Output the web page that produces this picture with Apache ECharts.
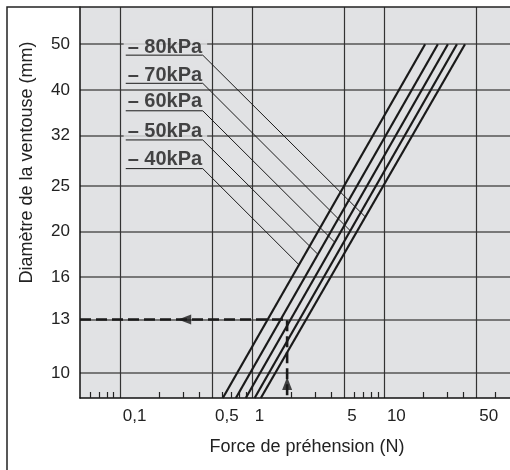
<!DOCTYPE html>
<html>
<head>
<meta charset="utf-8">
<script src="https://cdn.jsdelivr.net/npm/echarts@6/dist/echarts.min.js"></script>
<style>
  html, body { margin: 0; padding: 0; background: #fff; }
  #chart { width: 510px; height: 470px; }
</style>
</head>
<body>
<div id="chart"></div>
<script>
// vacuum levels, right-most line first
const pressures = ["80kPa", "70kPa", "60kPa", "50kPa", "40kPa"];
// force (N) where each line meets d = 50 mm and the bottom of the plot
const forceAtTop = [41.1, 35.7, 30.5, 25.6, 20.5];
const forceAtBottom = [1.17, 1.05, 0.9, 0.757, 0.603];
const diamTop = 50;
const diamBottom = 8.85;

// y axis (diameter, mm) and x axis (force, N) ticks
const diamTicks = [10, 13, 16, 20, 25, 32, 40, 50];
const forceLabels = [0.1, 0.5, 1, 5, 10, 50];
const forceMinor = [0.06, 0.07, 0.08, 0.09, 0.2, 0.3, 0.4, 0.6, 0.7, 0.8, 0.9, 2, 3, 4, 6, 7, 8, 9, 20, 30, 40, 70];

// callouts: label place, underline and leader end
const labelForce = 0.107;
const labelDiam = [49.3, 43.0, 37.7, 32.7, 28.5];
const underlineForce = [0.111, 0.425];
const underlineDiam = [47.4, 41.3, 36.1, 31.3, 27.2];
const leaderEnd = [[7.2, 21.5], [5.53, 20.1], [4.22, 19.0], [3.15, 17.9], [2.27, 17.0]];

// worked example: 13 mm cup
const exampleDiam = 13;
const exampleForce = 1.85;
const arrowLeft = [0.31, 13];
const arrowUp = [1.85, 9.5];

const font = "Liberation Sans, Arial, sans-serif";
const ink = "#1a1a1a";

const chart = echarts.init(document.getElementById("chart"));

const series = [];

pressures.forEach((p, i) => {
  series.push({
    name: p,
    type: "line",
    xAxisIndex: 0,
    showSymbol: false,
    silent: true,
    z: 4,
    lineStyle: { color: ink, width: 2.2 },
    data: [[forceAtBottom[i], diamBottom], [forceAtTop[i], diamTop]],
  });
  series.push({
    type: "line",
    xAxisIndex: 0,
    showSymbol: false,
    silent: true,
    z: 5,
    lineStyle: { color: ink, width: 1 },
    data: [
      [underlineForce[0], underlineDiam[i]],
      [underlineForce[1], underlineDiam[i]],
      leaderEnd[i],
    ],
  });
});

series.push({
  type: "scatter",
  xAxisIndex: 0,
  silent: true,
  z: 3,
  symbolSize: 0,
  label: {
    show: true,
    position: "right",
    distance: 0,
    formatter: (d) => "– " + pressures[d.dataIndex],
    fontFamily: font,
    fontWeight: "bold",
    fontSize: 20,
    lineHeight: 15,
    color: ink,
    backgroundColor: "#e1e2e4",
    padding: [0, 5, 0, 4],
  },
  data: labelDiam.map((d) => [labelForce, d]),
});

// dashed reading lines
series.push({
  type: "line",
  xAxisIndex: 0,
  showSymbol: false,
  silent: true,
  z: 6,
  lineStyle: { color: ink, width: 2.6, type: [11, 5] },
  data: [[0.05, exampleDiam], [exampleForce, exampleDiam], [exampleForce, diamBottom]],
});
series.push({
  type: "scatter",
  xAxisIndex: 0,
  silent: true,
  z: 7,
  symbol: "triangle",
  itemStyle: { color: ink },
  data: [
    { value: arrowLeft, symbolRotate: 90, symbolSize: [10, 13] },
    { value: arrowUp, symbolRotate: 0, symbolSize: [10, 13] },
  ],
});

chart.setOption({
  animation: false,
  textStyle: { fontFamily: font },
  grid: {
    left: 80,
    top: 7,
    width: 436,
    height: 391,
    outerBoundsMode: "none",
    containLabel: false,
    show: true,
    backgroundColor: "#e1e2e4",
    borderWidth: 0,
  },
  graphic: [
    {
      type: "rect",
      shape: { x: 7, y: 7, width: 600, height: 600 },
      style: { fill: null, stroke: "#222", lineWidth: 1.5 },
      z: 100,
      silent: true,
    },
  ],
  xAxis: [
    {
      type: "log",
      min: 0.05,
      max: 100,
      name: "Force de préhension (N)",
      nameLocation: "middle",
      nameGap: 40,
      nameTextStyle: { fontSize: 18, color: "#222", padding: [0, 0, 0, 18] },
      axisLine: { lineStyle: { color: "#111", width: 1.5 } },
      axisTick: { show: false, customValues: forceLabels },
      splitLine: { show: true, lineStyle: { color: "#333", width: 1.2 } },
      axisLabel: {
        customValues: forceLabels,
        align: "left",
        margin: 10,
        padding: [0, 0, 0, 3],
        fontSize: 17,
        color: "#222",
        formatter: (v) => String(Number(v.toPrecision(6))).replace(".", ","),
      },
    },
    {
      type: "log",
      min: 0.05,
      max: 100,
      position: "bottom",
      axisLine: { show: false },
      axisTick: { show: true, inside: true, length: 6, customValues: forceMinor, lineStyle: { color: "#222", width: 1.2 } },
      axisLabel: { show: false },
      splitLine: { show: false },
    },
  ],
  yAxis: {
    type: "log",
    min: diamBottom,
    max: 60,
    name: "Diamètre de la ventouse (mm)",
    nameLocation: "middle",
    nameGap: 44,
    nameRotate: 90,
    nameTextStyle: { fontSize: 18, color: "#222", padding: [0, 0, 0, 80] },
    axisLine: { show: true, lineStyle: { color: "#111", width: 1.5 } },
    axisTick: { show: false, customValues: diamTicks },
    splitLine: { show: true, lineStyle: { color: "#555", width: 1.5 } },
    axisLabel: { customValues: diamTicks, margin: 10, fontSize: 17, color: "#222" },
  },
  series,
});
</script>
</body>
</html>
